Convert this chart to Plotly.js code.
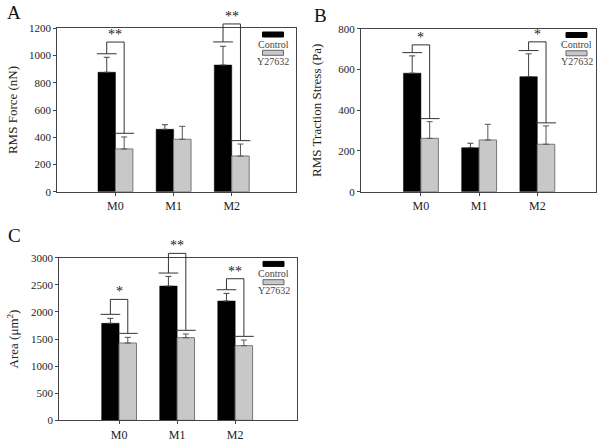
<!DOCTYPE html>
<html>
<head>
<meta charset="utf-8">
<script src="https://cdn.plot.ly/plotly-3.0.1.min.js"></script>
<style>html,body{margin:0;padding:0;background:#fff;}#chart{width:604px;height:448px;}</style>
</head>
<body>
<div id="chart"></div>
<script>
// ---------- data ----------
const categories = ['M0', 'M1', 'M2'];
const seriesNames = ['Control', 'Y27632'];

// Panel A: RMS Force (nN)
const forceControl = [877, 458, 930];
const forceControlErr = [110, 34, 138];
const forceY27632 = [314, 385, 262];
const forceY27632Err = [88, 95, 88];
const forceSigGroups = [0, 2];
const forceSigCapCtrl = [1013, 1100];
const forceSigCapY = [429, 375];
const forceSigTop = [1099, 1232];
const forceSigLabels = ['**', '**'];

// Panel B: RMS Traction Stress (Pa)
const stressControl = [582, 216, 565];
const stressControlErr = [85, 22, 112];
const stressY27632 = [262, 254, 233];
const stressY27632Err = [82, 77, 90];
const stressSigGroups = [0, 2];
const stressSigCapCtrl = [683, 693];
const stressSigCapY = [359, 338];
const stressSigTop = [721, 736];
const stressSigLabels = ['*', '*'];

// Panel C: Area (um^2)
const areaControl = [1789, 2477, 2200];
const areaControlErr = [92, 178, 142];
const areaY27632 = [1426, 1524, 1377];
const areaY27632Err = [104, 68, 104];
const areaSigGroups = [0, 1, 2];
const areaSigCapCtrl = [1955, 2717, 2409];
const areaSigCapY = [1604, 1660, 1549];
const areaSigTop = [2231, 3080, 2612];
const areaSigLabels = ['*', '**', '**'];

// ---------- styling ----------
const W = 604, H = 448;
const FONT = 'Liberation Serif, Times New Roman, serif';
const CTRL_COLOR = '#000000';
const Y_COLOR = '#c8c8c8';
const LINE = '#333333';

const panels = [
  {ax: '', ctrl: forceControl, ctrlErr: forceControlErr, yv: forceY27632, yErr: forceY27632Err,
   groups: forceSigGroups, capC: forceSigCapCtrl, capY: forceSigCapY, top: forceSigTop, labels: forceSigLabels,
   xrange: [-1.0, 3.1], yrange: [0, 1200], dtick: 200, title: 'RMS Force (nN)', standoff: 8,
   px: [57.3, 295.7], py: [28.3, 191.7], letter: 'A', letterPos: [14, 12.5], legendX: 273},
  {ax: '2', ctrl: stressControl, ctrlErr: stressControlErr, yv: stressY27632, yErr: stressY27632Err,
   groups: stressSigGroups, capC: stressSigCapCtrl, capY: stressSigCapY, top: stressSigTop, labels: stressSigLabels,
   xrange: [-1.03, 3.0], yrange: [0, 800], dtick: 200, title: 'RMS Traction Stress (Pa)', standoff: 13,
   px: [361, 595.5], py: [28.8, 191.7], letter: 'B', letterPos: [320.5, 16], legendX: 576.5},
  {ax: '3', ctrl: areaControl, ctrlErr: areaControlErr, yv: areaY27632, yErr: areaY27632Err,
   groups: areaSigGroups, capC: areaSigCapCtrl, capY: areaSigCapY, top: areaSigTop, labels: areaSigLabels,
   xrange: [-1.03, 3.06], yrange: [0, 3000], dtick: 500, title: 'Area (\u03bcm<sup>2</sup>)', standoff: 9,
   px: [59.3, 296.7], py: [257.7, 420.3], letter: 'C', letterPos: [14, 235.5], legendX: 273.5}
];

const traces = [];
const shapes = [];
const annotations = [];
const layout = {
  width: W, height: H,
  margin: {l: 0, r: 0, t: 0, b: 0, autoexpand: false},
  paper_bgcolor: '#ffffff', plot_bgcolor: '#ffffff',
  showlegend: false,
  barmode: 'group', bargap: 0.4, bargroupgap: 0,
  font: {family: FONT, size: 11, color: '#222'},
  shapes: shapes, annotations: annotations
};

const BAR_HALF = 0.15;  // half of one bar slot in category units
const CAP_HALF = 0.17;

panels.forEach(p => {
  const xa = 'x' + p.ax, ya = 'y' + p.ax;
  traces.push({
    type: 'bar', x: categories, y: p.ctrl, name: seriesNames[0], xaxis: xa, yaxis: ya,
    marker: {color: CTRL_COLOR, line: {color: '#000', width: 0.5}},
    error_y: {type: 'data', array: p.ctrlErr, symmetric: false, arrayminus: p.ctrl.map(() => 0),
              color: '#444', thickness: 1, width: 3}
  });
  traces.push({
    type: 'bar', x: categories, y: p.yv, name: seriesNames[1], xaxis: xa, yaxis: ya,
    marker: {color: Y_COLOR, line: {color: '#777', width: 1}},
    error_y: {type: 'data', array: p.yErr, symmetric: false, arrayminus: p.yv.map(() => 0),
              color: '#555', thickness: 1, width: 3}
  });

  const xdom = [p.px[0] / W, p.px[1] / W];
  const ydom = [1 - p.py[1] / H, 1 - p.py[0] / H];
  layout['xaxis' + p.ax] = {
    domain: xdom, anchor: ya, type: 'category', range: p.xrange, fixedrange: true,
    showline: true, linecolor: '#444', linewidth: 1, mirror: true,
    ticks: 'outside', ticklen: 3, tickcolor: '#444', showgrid: false, zeroline: false,
    tickfont: {family: FONT, size: 12, color: '#222'}
  };
  layout['yaxis' + p.ax] = {
    domain: ydom, anchor: xa, range: p.yrange, dtick: p.dtick, tick0: 0, fixedrange: true,
    showline: true, linecolor: '#444', linewidth: 1, mirror: true,
    ticks: 'outside', ticklen: 3, tickcolor: '#444', showgrid: false, zeroline: false,
    tickfont: {family: FONT, size: 11, color: '#222'},
    title: {text: p.title, font: {family: FONT, size: 13, color: '#222'}, standoff: p.standoff}
  };

  // significance brackets (positions mapped through the axis ranges into domain fractions)
  const xf = v => (v - p.xrange[0]) / (p.xrange[1] - p.xrange[0]);
  const yf = v => (v - p.yrange[0]) / (p.yrange[1] - p.yrange[0]);
  const xr = 'x' + p.ax + ' domain', yr = 'y' + p.ax + ' domain';
  p.groups.forEach((g, k) => {
    const xc = g - BAR_HALF, xt = g + BAR_HALF;
    const seg = (x0, y0, x1, y1) => shapes.push({type: 'line', xref: xr, yref: yr,
      x0: xf(x0), y0: yf(y0), x1: xf(x1), y1: yf(y1), line: {color: LINE, width: 1}});
    seg(xc - CAP_HALF, p.capC[k], xc + CAP_HALF, p.capC[k]);
    seg(xt - CAP_HALF, p.capY[k], xt + CAP_HALF, p.capY[k]);
    seg(xc, p.capC[k], xc, p.top[k]);
    seg(xt, p.capY[k], xt, p.top[k]);
    seg(xc, p.top[k], xt, p.top[k]);
    annotations.push({xref: xr, yref: yr, x: xf(g), y: yf(p.top[k]), text: p.labels[k],
      showarrow: false, xanchor: 'center', yanchor: 'bottom', yshift: -2,
      font: {family: FONT, size: 14, color: '#222'}});
  });

  // custom legend (symbol above label)
  const lx = p.legendX, top = p.py[0];
  const rect = (y0, color, lineColor) => shapes.push({type: 'rect', xref: 'paper', yref: 'paper',
    x0: (lx - 10.5) / W, x1: (lx + 10.5) / W, y0: 1 - (top + y0 + 5) / H, y1: 1 - (top + y0) / H,
    fillcolor: color, line: {color: lineColor, width: 1}});
  rect(3.7, CTRL_COLOR, '#000');
  rect(22, Y_COLOR, '#666');
  annotations.push({xref: 'paper', yref: 'paper', x: lx / W, y: 1 - (top + 16) / H, text: seriesNames[0],
    showarrow: false, xanchor: 'center', yanchor: 'middle', font: {family: FONT, size: 10, color: '#444'}});
  annotations.push({xref: 'paper', yref: 'paper', x: lx / W, y: 1 - (top + 33) / H, text: seriesNames[1],
    showarrow: false, xanchor: 'center', yanchor: 'middle', font: {family: FONT, size: 10, color: '#444'}});

  // panel letter
  annotations.push({xref: 'paper', yref: 'paper', x: p.letterPos[0] / W, y: 1 - p.letterPos[1] / H,
    text: p.letter, showarrow: false, xanchor: 'center', yanchor: 'middle',
    font: {family: FONT, size: 19, color: '#111'}});
});

Plotly.newPlot('chart', traces, layout, {displayModeBar: false, staticPlot: true});
</script>
</body>
</html>
